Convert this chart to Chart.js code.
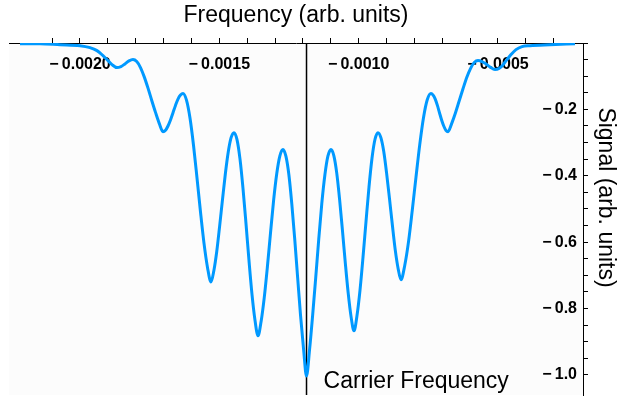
<!DOCTYPE html>
<html>
<head>
<meta charset="utf-8">
<script src="https://cdn.jsdelivr.net/npm/chart.js@4.4.1/dist/chart.umd.min.js"></script>
<style>
  html, body { margin: 0; padding: 0; background: #ffffff; }
  canvas { display: block; }
</style>
</head>
<body>
<canvas id="spectrum" width="619" height="398"></canvas>
<script>
// frequency (arb. units)
const freq = [
  -0.0022153, -0.0021436, -0.0020718, -0.0020000, -0.0019641, -0.0019390, -0.0019175, -0.0018995,
  -0.0018852, -0.0018672, -0.0018529, -0.0018385, -0.0018241, -0.0018098, -0.0017963, -0.0017829,
  -0.0017694, -0.0017559, -0.0017425, -0.0017290, -0.0017156, -0.0017021, -0.0016931, -0.0016842,
  -0.0016752, -0.0016662, -0.0016573, -0.0016483, -0.0016393, -0.0016303, -0.0016178, -0.0016052,
  -0.0015926, -0.0015801, -0.0015675, -0.0015550, -0.0015424, -0.0015298, -0.0015194, -0.0015092,
  -0.0014990, -0.0014886, -0.0014782, -0.0014679, -0.0014577, -0.0014473, -0.0014365, -0.0014258,
  -0.0014150, -0.0014042, -0.0013935, -0.0013827, -0.0013719, -0.0013612, -0.0013500, -0.0013387,
  -0.0013274, -0.0013163, -0.0013052, -0.0012939, -0.0012826, -0.0012714, -0.0012610, -0.0012503,
  -0.0012399, -0.0012293, -0.0012187, -0.0012083, -0.0011975, -0.0011871, -0.0011760, -0.0011652,
  -0.0011541, -0.0011431, -0.0011322, -0.0011210, -0.0011103, -0.0010992, -0.0010888, -0.0010785,
  -0.0010683, -0.0010579, -0.0010475, -0.0010372, -0.0010270, -0.0010166, -0.0010058, -0.0009951,
  -0.0009843, -0.0009735, -0.0009628, -0.0009520, -0.0009412, -0.0009305, -0.0009201, -0.0009098,
  -0.0008996, -0.0008892, -0.0008788, -0.0008686, -0.0008583, -0.0008479, -0.0008345, -0.0008210,
  -0.0008076, -0.0007941, -0.0007806, -0.0007672, -0.0007537, -0.0007403, -0.0007327, -0.0007250,
  -0.0007173, -0.0007098, -0.0007022, -0.0006945, -0.0006868, -0.0006792, -0.0006658, -0.0006523,
  -0.0006389, -0.0006254, -0.0006120, -0.0005985, -0.0005850, -0.0005716, -0.0005572, -0.0005429,
  -0.0005285, -0.0005106, -0.0004962, -0.0004819, -0.0004675, -0.0004531, -0.0004352, -0.0004137,
  -0.0003849, -0.0003132, -0.0002234
];
// signal (arb. units)
const signal = [
  -0.002, -0.002, -0.005, -0.008, -0.014, -0.023, -0.038, -0.053,
  -0.065, -0.074, -0.071, -0.063, -0.054, -0.050, -0.056, -0.074,
  -0.102, -0.136, -0.173, -0.209, -0.242, -0.267, -0.263, -0.250,
  -0.232, -0.210, -0.188, -0.169, -0.157, -0.152, -0.172, -0.226,
  -0.308, -0.406, -0.509, -0.603, -0.676, -0.720, -0.685, -0.628,
  -0.553, -0.472, -0.393, -0.328, -0.285, -0.270, -0.291, -0.349,
  -0.438, -0.544, -0.655, -0.757, -0.835, -0.882, -0.839, -0.767,
  -0.674, -0.573, -0.475, -0.394, -0.340, -0.321, -0.341, -0.397,
  -0.484, -0.591, -0.708, -0.822, -0.923, -1.003, -0.923, -0.822,
  -0.708, -0.591, -0.484, -0.397, -0.341, -0.321, -0.340, -0.392,
  -0.471, -0.566, -0.665, -0.755, -0.825, -0.867, -0.821, -0.745,
  -0.646, -0.538, -0.434, -0.347, -0.290, -0.270, -0.285, -0.327,
  -0.392, -0.469, -0.549, -0.623, -0.679, -0.713, -0.670, -0.599,
  -0.505, -0.404, -0.306, -0.225, -0.171, -0.152, -0.157, -0.169,
  -0.188, -0.210, -0.232, -0.250, -0.263, -0.267, -0.242, -0.210,
  -0.174, -0.138, -0.104, -0.077, -0.059, -0.053, -0.056, -0.063,
  -0.072, -0.080, -0.077, -0.066, -0.050, -0.035, -0.020, -0.011,
  -0.008, -0.005, -0.002
];

const carrierFreq = -0.001187;
const xMajorTicks = [-0.0020, -0.0015, -0.0010, -0.0005];
const yMajorTicks = [-0.2, -0.4, -0.6, -0.8, -1.0];
const xRange = [-0.0022548, -0.0001947];
const yRange = [-1.0603, 0];

const xTitle = "Frequency (arb. units)";
const yTitle = "Signal (arb. units)";
const carrierText = "Carrier Frequency";

const MINUS = "\u2212\u2009";
const textFont = "'Liberation Sans', Arial, sans-serif";

function onStep(v, step) {
  const r = v / step;
  return Math.abs(r - Math.round(r)) < 1e-3;
}
function isIn(v, list, tol) {
  return list.some(t => Math.abs(t - v) < tol);
}

// light grey plot area
const plotBg = {
  id: "plotBg",
  beforeDraw(chart) {
    const a = chart.chartArea;
    const ctx = chart.ctx;
    ctx.save();
    ctx.fillStyle = "#fcfcfc";
    ctx.fillRect(a.left, a.top, a.right - a.left, a.bottom - a.top);
    ctx.restore();
  }
};

// label next to the carrier line
const carrierLabel = {
  id: "carrierLabel",
  afterDatasetsDraw(chart) {
    const x = chart.scales.x.getPixelForValue(carrierFreq);
    const ctx = chart.ctx;
    ctx.save();
    ctx.font = "23px " + textFont;
    ctx.fillStyle = "#000";
    ctx.textAlign = "left";
    ctx.textBaseline = "alphabetic";
    ctx.fillText(carrierText, x + 17, chart.chartArea.bottom - 7);
    ctx.restore();
  }
};

const ctx = document.getElementById("spectrum").getContext("2d");
new Chart(ctx, {
  type: "line",
  data: {
    datasets: [
      {
        data: freq.map((f, i) => ({ x: f, y: signal[i] })),
        borderColor: "#0099ff",
        borderWidth: 3,
        pointRadius: 0,
        cubicInterpolationMode: "monotone",
        fill: false
      },
      {
        data: [{ x: carrierFreq, y: yRange[1] }, { x: carrierFreq, y: yRange[0] }],
        borderColor: "#000000",
        borderWidth: 1.5,
        pointRadius: 0,
        fill: false
      }
    ]
  },
  options: {
    responsive: false,
    animation: false,
    layout: { padding: { left: 9, right: 0, top: 0, bottom: 3 } },
    plugins: {
      legend: { display: false },
      tooltip: { enabled: false },
      title: {
        display: true,
        position: "right",
        text: yTitle,
        color: "#000",
        font: { family: textFont, size: 23, weight: "normal", lineHeight: 1.2 },
        padding: 0
      }
    },
    scales: {
      x: {
        type: "linear",
        position: "top",
        min: xRange[0],
        max: xRange[1],
        afterBuildTicks: s => { s.ticks = s.ticks.filter(t => onStep(t.value, 0.0001)); },
        afterFit: s => { s.height = 43; s.paddingLeft = 0; s.paddingRight = 0; },
        ticks: {
          stepSize: 0.0001,
          autoSkip: false,
          maxRotation: 0,
          mirror: true,
          padding: 12,
          color: "#000",
          font: { family: textFont, size: 16, weight: "bold" },
          callback: v => isIn(v, xMajorTicks, 1e-8) ? MINUS + Math.abs(v).toFixed(4) : ""
        },
        grid: { drawOnChartArea: false, tickLength: 5, color: "#000" },
        border: { display: true, color: "#000", width: 1 },
        title: {
          display: true,
          text: xTitle,
          color: "#000",
          font: { family: textFont, size: 23, weight: "normal", lineHeight: 1.2 },
          padding: { top: 2, bottom: 0 }
        }
      },
      y: {
        type: "linear",
        position: "right",
        min: yRange[0],
        max: yRange[1],
        afterBuildTicks: s => { s.ticks = s.ticks.filter(t => onStep(t.value, 0.05)); },
        afterFit: s => { s.width = 8.4; s.paddingTop = 0; s.paddingBottom = 0; },
        ticks: {
          stepSize: 0.05,
          autoSkip: false,
          mirror: true,
          padding: -6,
          color: "#000",
          font: { family: textFont, size: 16, weight: "bold" },
          callback: v => isIn(v, yMajorTicks, 1e-6) ? MINUS + Math.abs(v).toFixed(1) : ""
        },
        grid: { drawOnChartArea: false, tickLength: 5, color: "#000" },
        border: { display: true, color: "#000", width: 1 }
      }
    }
  },
  plugins: [plotBg, carrierLabel]
});
</script>
</body>
</html>
